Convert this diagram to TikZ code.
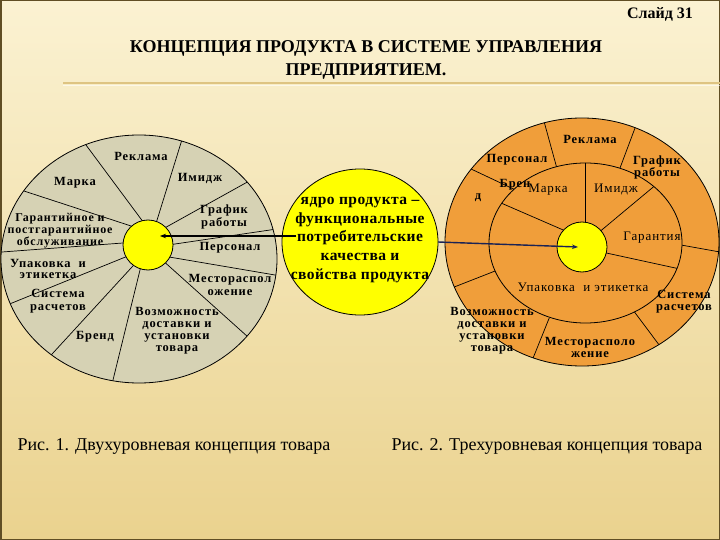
\documentclass[tikz,border=0pt]{standalone}
\usepackage{fontspec}
\setmainfont{Liberation Serif}
\newfontfamily\lblfont[LetterSpace=7]{Liberation Serif}
\newfontfamily\corefont[LetterSpace=3]{Liberation Serif}
\usetikzlibrary{calc,arrows.meta,shapes.geometric}
\definecolor{bgtop}{RGB}{251,242,210}
\definecolor{bgbot}{RGB}{234,210,142}
\definecolor{framecol}{RGB}{96,78,36}
\definecolor{rulecol}{RGB}{222,196,130}
\definecolor{khaki}{RGB}{214,210,180}
\definecolor{orng}{RGB}{240,158,58}
\definecolor{yel}{RGB}{255,255,0}
\definecolor{navy}{RGB}{26,35,85}
\tikzset{
  lab/.style={font=\lblfont\bfseries\fontsize{12.5}{12.5}\selectfont, align=center, inner sep=0pt},
  rlab/.style={font=\lblfont\fontsize{13}{12}\selectfont, align=center, inner sep=0pt},
  spoke/.style={draw=black, line width=0.7pt},
  rim/.style={draw=black, line width=0.8pt},
  corebox/.style={draw=black, line width=0.8pt, fill=yel, circle, inner sep=0pt, minimum size=50pt},
}
\begin{document}
\begin{tikzpicture}[x=1pt,y=-1pt]
\useasboundingbox (0,0) rectangle (720,540);
% background
\shade[top color=bgtop, bottom color=bgbot] (0,0) rectangle (720,540);
\draw[framecol, line width=1.5pt] (0.75,0.75) rectangle (719.25,539.25);
\draw[rulecol, line width=1.2pt] (63,83) -- (720,83);
\draw[white, opacity=0.6, line width=0.8pt] (63,85) -- (720,85);

% title
\node[font=\bfseries\fontsize{16}{16}\selectfont, anchor=center] (slide) at (660,14) {Слайд 31};
\node[font=\bfseries\fontsize{18}{23}\selectfont, align=center] (title) at (366,60)
  {КОНЦЕПЦИЯ ПРОДУКТА В СИСТЕМЕ УПРАВЛЕНИЯ\\ПРЕДПРИЯТИЕМ.};

% ===== left diagram =====
\fill[khaki] (139,259) ellipse [x radius=138, y radius=124];
\begin{scope}
  \clip (139,259) ellipse [x radius=138, y radius=124];
  \foreach \a/\b/\c/\d in {138/215/86/145, 158/217/180/146, 170/225/242/185,
     175/244/270/230, 175/258/275/275, 170/267/248/337, 140/270/113/380,
     132/267/53/353, 123/258/12/303, 123/243/2/252, 128/225/27/192}
    \draw[spoke] ($(\a,\b)!-0.15!(\c,\d)$) -- ($(\a,\b)!1.4!(\c,\d)$);
\end{scope}
\draw[rim] (139,259) ellipse [x radius=138, y radius=124];
\node[corebox] (lcore) at (148,245) {};

\node[lab] (l1) at (141,156) {Реклама};
\node[lab] (l2) at (75,183) {Марка};
\node[lab] (l3) at (200,178) {Имидж};
\node[lab] (l4) at (224,217) {График\\работы};
\node[lab] (l5) at (230,248) {Персонал};
\node[lab] (l6) at (230,285) {Местораспол\\ожение};
\node[lab, font=\lblfont\bfseries\fontsize{12.5}{12}\selectfont] (l7) at (177,331) {Возможность\\доставки и\\установки\\товара};
\node[lab] (l8) at (95,337) {Бренд};
\node[lab] (l9) at (58,301) {Система\\расчетов};
\node[lab, font=\lblfont\bfseries\fontsize{12.5}{11.5}\selectfont] (l10) at (48,269) {Упаковка~~и\\этикетка};
\node[lab, font=\lblfont\bfseries\fontsize{12}{10.5}\selectfont] (l11) at (60,231) {Гарантийное и\\постгарантийное\\обслуживание};

% ===== core =====
\node[ellipse, draw=black, line width=0.8pt, fill=yel, minimum width=156pt, minimum height=146pt, inner sep=0pt] (core) at (360,242) {};
\node[font=\corefont\bfseries\fontsize{15.5}{18.7}\selectfont, align=center, inner sep=0pt] (coretext) at (360,240)
  {ядро продукта –\\функциональные\\потребительские\\качества и\\свойства продукта};

% ===== right diagram =====
\fill[orng] (582,242) ellipse [x radius=137, y radius=124];
\begin{scope}
  \clip (582,242) ellipse [x radius=137, y radius=124];
  \foreach \a/\b/\c/\d in {556/165/545/125, 620/168/635/128, 505/185/471.7/169.3,
     681/245/718.3/251.7, 493.3/271.7/455/286.7, 546/326/535/353.3, 636.7/315/656.7/341.7}
    \draw[spoke] ($(\a,\b)!-0.3!(\c,\d)$) -- ($(\a,\b)!1.5!(\c,\d)$);
\end{scope}
\draw[rim] (582,242) ellipse [x radius=137, y radius=124];
\fill[orng] (585.5,243) ellipse [x radius=96.5, y radius=80];
\begin{scope}
  \clip (585.5,243) ellipse [x radius=96.5, y radius=80];
  \foreach \a/\b/\c/\d in {585.7/229/585.7/165, 601.7/230/651.7/188.3,
     607.7/253.3/676.7/268.3, 559.3/228.3/501.7/203.3}
    \draw[spoke] ($(\a,\b)!-0.2!(\c,\d)$) -- ($(\a,\b)!1.4!(\c,\d)$);
\end{scope}
\draw[rim] (585.5,243) ellipse [x radius=96.5, y radius=80];
\node[corebox] (rcore) at (582,247) {};

\node[lab] (r1) at (590,139) {Реклама};
\node[lab] (r2) at (517,160) {Персонал};
\node[lab, font=\lblfont\bfseries\fontsize{12.5}{11.5}\selectfont] (r3) at (657,167.5) {График\\работы};
\node[rlab] (r5) at (548,189.5) {Марка};
\node[lab] (r4) at (515,185) {Брен};
\node[lab] (r6) at (478,198) {д};
\node[rlab] (r7) at (616,189.5) {Имидж};
\node[rlab] (r8) at (652,237.5) {Гарантия};
\node[rlab] (r9) at (583,287) {Упаковка~~и этикетка};
\node[lab] (r10) at (684,301.5) {Система\\расчетов};
\node[lab, font=\lblfont\bfseries\fontsize{12.5}{12}\selectfont] (r11) at (492,331) {Возможность\\доставки и\\установки\\товара};
\node[lab, font=\lblfont\bfseries\fontsize{12.5}{12}\selectfont] (r12) at (590,347) {Месторасполо\\жение};

% arrows
\coordinate (la) at (296,236);
\coordinate (lb) at (160,236);
\draw[black, line width=1.6pt, -{Stealth[length=6pt,width=4.5pt]}] (la) -- (lb);
\coordinate (ra) at (438,242);
\coordinate (rb) at (578,247);
\draw[navy, line width=1.4pt, -{Stealth[length=6pt,width=4.5pt]}] (ra) -- (rb);

% captions
\node[font=\fontsize{18}{20}\selectfont] (cap1) at (174,446) {Рис. 1. Двухуровневая концепция товара};
\node[font=\fontsize{18}{20}\selectfont] (cap2) at (547,446) {Рис. 2. Трехуровневая концепция товара};
\end{tikzpicture}
\end{document}
